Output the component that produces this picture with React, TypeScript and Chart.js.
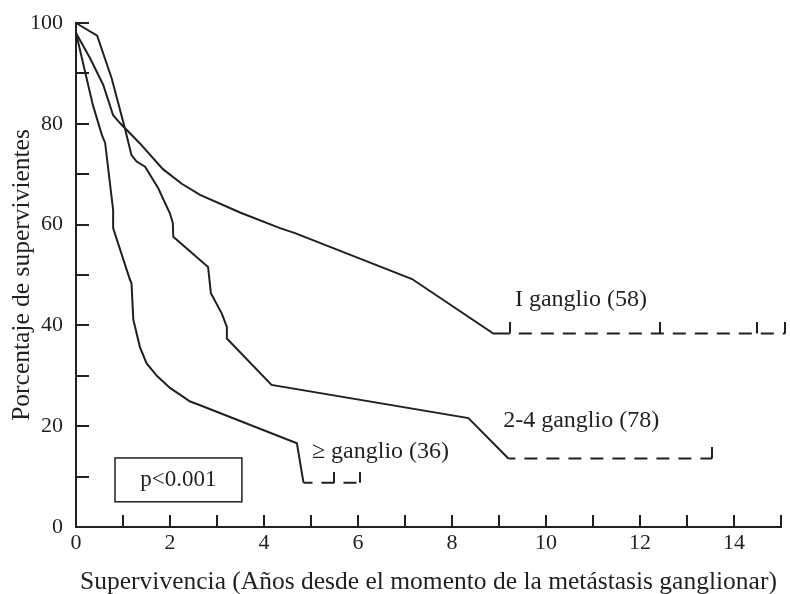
import React, { useEffect, useRef } from 'react';
import { Chart, registerables } from 'chart.js';

Chart.register(...registerables);

const FONT = '"Liberation Serif", "Times New Roman", serif';
const INK = '#231f20';

// Axis ticks
const xTickLabels = [0, 2, 4, 6, 8, 10, 12, 14];
const yTickLabels = [0, 20, 40, 60, 80, 100];

// Series names
const seriesNames = ['I ganglio (58)', '2-4 ganglio (78)', '≥ ganglio (36)'];

// I ganglio (58)
const oneX = [0, 0.3, 0.58, 0.79, 0.94, 1.36, 1.85, 2.25, 2.64, 3.49, 4.34, 4.66, 7.15, 8.88, 9.23];
const oneY = [98, 93, 87.7, 81.7, 80.1, 76.1, 71, 68.1, 65.9, 62.4, 59.3, 58.3, 49.2, 38.4, 38.4];
const oneTailX = [9.23, 15.09];
const oneTailY = [38.4, 38.4];
const oneCensorX = [9.23, 12.43, 14.49, 15.09];

// 2-4 ganglio (78)
const twoX = [0, 0.45, 0.76, 1.04, 1.18, 1.29, 1.47, 1.75, 2.0, 2.06, 2.07, 2.81, 2.87, 3.1, 3.21, 3.21, 4.16, 8.35, 9.2];
const twoY = [100, 97.5, 89, 79.1, 73.8, 72.5, 71.5, 67.2, 62.2, 60.3, 57.6, 51.6, 46.4, 42.4, 39.7, 37.4, 28.2, 21.6, 13.6];
const twoTailX = [9.2, 13.53];
const twoTailY = [13.6, 13.6];
const twoCensorX = [13.53];

// ≥ ganglio (36)
const threeX = [0, 0.36, 0.55, 0.62, 0.79, 0.79, 1.15, 1.18, 1.22, 1.36, 1.5, 1.72, 2.0, 2.43, 2.6, 4.7, 4.84];
const threeY = [98, 83.7, 77.8, 76.2, 62.9, 59.3, 49, 48.4, 41.1, 35.7, 32.5, 30.0, 27.6, 24.9, 24.3, 16.6, 8.8];
const threeTailX = [4.84, 6.04];
const threeTailY = [8.8, 8.8];
const threeCensorX = [5.48, 6.04];

// Annotation placement (data units) and p-value box
const labelAnchors = [
  { text: seriesNames[0], x: 9.34, y: 45 },
  { text: seriesNames[1], x: 9.09, y: 21 },
  { text: seriesNames[2], x: 5.02, y: 14.9 },
];
const pBox = { text: 'p<0.001', x0: 0.83, x1: 3.53, y0: 5.0, y1: 13.7 };

const pts = (xs: number[], ys: number[]) => xs.map((x, i) => ({ x, y: ys[i] }));

function makeCensorMark(): HTMLCanvasElement {
  const c = document.createElement('canvas');
  c.width = 2;
  c.height = 22;
  const g = c.getContext('2d')!;
  g.fillStyle = INK;
  g.fillRect(0, 0, 2, 11);
  return c;
}

const annotationPlugin = {
  id: 'kmAnnotations',
  afterDatasetsDraw(chart: any) {
    const { ctx, scales } = chart;
    const xs = scales.x;
    const ys = scales.y;
    ctx.save();
    ctx.fillStyle = INK;
    ctx.font = `24px ${FONT}`;
    ctx.textBaseline = 'middle';
    ctx.textAlign = 'left';
    for (const a of labelAnchors) {
      ctx.fillText(a.text, xs.getPixelForValue(a.x), ys.getPixelForValue(a.y));
    }
    const l = xs.getPixelForValue(pBox.x0);
    const r = xs.getPixelForValue(pBox.x1);
    const t = ys.getPixelForValue(pBox.y1);
    const b = ys.getPixelForValue(pBox.y0);
    ctx.strokeStyle = INK;
    ctx.lineWidth = 1.5;
    ctx.strokeRect(l, t, r - l, b - t);
    ctx.textAlign = 'center';
    ctx.font = `23px ${FONT}`;
    ctx.fillText(pBox.text, (l + r) / 2, (t + b) / 2);
    ctx.restore();
  },
};

export default function App() {
  const ref = useRef<HTMLCanvasElement | null>(null);

  useEffect(() => {
    if (!ref.current) return;
    const mark = makeCensorMark();
    const line = (data: any[], dashed: boolean, offset = 0) => ({
      data,
      showLine: true,
      borderColor: INK,
      borderWidth: 2,
      pointRadius: 0,
      tension: 0,
      clip: false as any,
      borderDash: dashed ? [13, 9] : [],
      borderDashOffset: offset,
    });
    const censorData = [
      ...oneCensorX.map((x) => ({ x, y: oneTailY[0] })),
      ...twoCensorX.map((x) => ({ x, y: twoTailY[0] })),
      ...threeCensorX.map((x) => ({ x, y: threeTailY[0] })),
    ];
    const chart = new Chart(ref.current, {
      type: 'scatter',
      data: {
        datasets: [
          { label: seriesNames[0], ...line(pts(oneX, oneY), false) },
          { label: seriesNames[0] + ' tail', ...line(pts(oneTailX, oneTailY), true, 13) },
          { label: seriesNames[1], ...line(pts(twoX, twoY), false) },
          { label: seriesNames[1] + ' tail', ...line(pts(twoTailX, twoTailY), true, 6) },
          { label: seriesNames[2], ...line(pts(threeX, threeY), false) },
          { label: seriesNames[2] + ' tail', ...line(pts(threeTailX, threeTailY), true, 4) },
          {
            label: 'censored',
            data: censorData,
            showLine: false,
            pointStyle: mark as any,
            pointRadius: 6,
            clip: false as any,
          },
        ] as any,
      },
      options: {
        responsive: false,
        animation: false,
        devicePixelRatio: 1,
        layout: { padding: { top: 23, right: 9, left: 0, bottom: 0 } },
        plugins: {
          legend: { display: false },
          tooltip: { enabled: false },
        },
        scales: {
          x: {
            type: 'linear',
            min: 0,
            max: 15,
            afterFit: (s: any) => {
              s.height = 67;
              s.paddingLeft = 0;
              s.paddingRight = 0;
            },
            border: { color: INK, width: 2 },
            grid: { drawOnChartArea: false, color: INK, tickLength: -12, tickWidth: 2, lineWidth: 2 },
            ticks: {
              stepSize: 1,
              autoSkip: false,
              maxRotation: 0,
              padding: 15,
              color: INK,
              font: { family: FONT, size: 22 },
              callback: (v: any) => (xTickLabels.includes(Number(v)) ? String(v) : ''),
            },
            title: {
              display: true,
              text: 'Supervivencia (Años desde el momento de la metástasis ganglionar)',
              color: INK,
              font: { family: FONT, size: 25.5 },
              padding: { top: 0, bottom: -4 },
            },
          },
          y: {
            type: 'linear',
            min: 0,
            max: 100,
            afterFit: (s: any) => {
              s.width = 76;
              s.paddingTop = 0;
              s.paddingBottom = 0;
            },
            border: { color: INK, width: 2 },
            grid: { drawOnChartArea: false, color: INK, tickLength: -13, tickWidth: 2, lineWidth: 2 },
            ticks: {
              stepSize: 10,
              autoSkip: false,
              padding: 26,
              color: INK,
              font: { family: FONT, size: 22 },
              callback: (v: any) => (yTickLabels.includes(Number(v)) ? String(v) : ''),
            },
            title: {
              display: true,
              text: 'Porcentaje de supervivientes',
              color: INK,
              font: { family: FONT, size: 25.5 },
              padding: { top: 7, bottom: 0 },
            },
          },
        },
      } as any,
      plugins: [annotationPlugin],
    });
    return () => chart.destroy();
  }, []);

  return (
    <div style={{ position: 'fixed', left: 0, top: 0, width: 790, height: 594, background: '#fff' }}>
      <canvas ref={ref} width={790} height={594} style={{ display: 'block' }} />
    </div>
  );
}
